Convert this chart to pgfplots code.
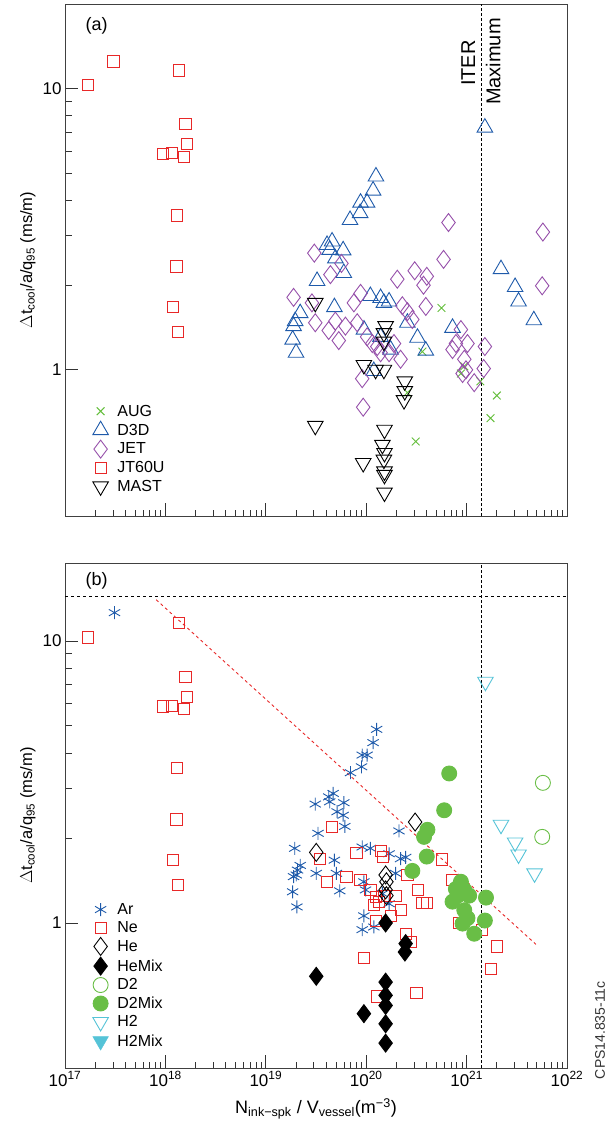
\documentclass[border=0pt]{standalone}
\usepackage{pgfplots}
\pgfplotsset{compat=1.18}
\usepackage{fontspec}
\setmainfont{Liberation Sans}
\definecolor{cred}{RGB}{232,40,40}
\definecolor{cblue}{RGB}{30,90,170}
\definecolor{cpurp}{RGB}{150,80,170}
\definecolor{cgreen}{RGB}{100,190,60}
\definecolor{cgreenf}{RGB}{105,190,70}
\definecolor{ccyan}{RGB}{85,195,215}
\begin{document}
\begin{tikzpicture}
\begin{axis}[xmode=log, ymode=log, scale only axis, width=502pt,
  xmin=1e17, xmax=1e22,
  xtick={1e17,1e18,1e19,1e20,1e21,1e22},
  ytick={1,10}, yticklabels={1,10},
  tick align=inside, xtick pos=bottom, ytick pos=left,
  major tick length=13pt, minor tick length=6.5pt,
  tick style={black!80, line width=0.8pt},
  axis line style={black!75, line width=0.9pt},
  ticklabel style={font=\fontsize{17}{19}\selectfont},
  ylabel={$\Delta$t\textsubscript{cool}/a/q\textsubscript{95} (ms/m)},
  ylabel style={font=\fontsize{16.5}{18}\selectfont, at={(-26pt,0.5)}, anchor=south},
  legend cell align=left,
  legend style={draw=none, fill=none, font=\fontsize{16}{18}\selectfont, anchor=south west, row sep=1.6pt, inner sep=0pt, nodes={inner xsep=9pt, inner ysep=2pt}, at={(0.055,0.04)}},
  name=A, at={(0,0)}, anchor=north west, height=512pt,
  ymin=0.302, ymax=20, xticklabels={}]
\addplot[only marks, line width=0.9pt, mark=x, mark size=5.5pt, color=cgreen, mark options={draw=cgreen}] coordinates {
(5.62e20,1.66)(3.63e20,1.16)(8.77e20,0.97)(9.48e20,1.03)(1.37e21,0.91)(2.0e21,0.81)(1.73e21,0.673)(3.11e20,0.556)(2.57e20,0.83)};
\addlegendentry{AUG}
\addplot[only marks, line width=0.9pt, mark=triangle, mark size=9pt, color=cblue, mark options={draw=cblue}] coordinates {
(1.52e21,7.27)(1.25e20,4.87)(1.17e20,4.34)(8.78e19,3.93)(1.02e20,3.93)(8.7e19,3.61)(6.9e19,3.41)(4.07e19,2.78)(4.57e19,2.86)(4.33e19,2.67)(5.89e19,2.66)(4.93e19,2.49)(5.98e19,2.21)(3.24e19,2.07)(2.2e21,2.28)(3.04e21,1.97)(3.29e21,1.75)(4.67e21,1.5)(2.2e19,1.59)(1.96e19,1.49)(1.89e19,1.43)(1.85e19,1.28)(2.0e19,1.15)(4.82e19,1.67)(1.1e20,1.83)(1.39e20,1.80)(1.69e20,1.75)(1.5e20,1.73)(9.5e19,1.39)(2.57e20,1.47)(3.24e20,1.30)(3.92e20,1.17)(7.24e20,1.41)(1.19e20,0.99)(1.75e20,1.18)(1.39e20,1.31)};
\addlegendentry{D3D}
\addplot[only marks, line width=0.9pt, mark=diamond, mark size=9pt, color=cpurp, mark options={draw=cpurp}] coordinates {
(6.6e20,3.34)(5.75e21,3.09)(5.89e20,2.47)(3.04e19,2.6)(5.67e19,2.39)(4.4e19,2.18)(3.04e20,2.25)(4.01e20,2.15)(2.04e20,2.1)(3.72e20,2.0)(5.66e21,1.99)(1.89e19,1.81)(2.88e19,1.73)(8.78e19,1.87)(7.53e19,1.73)(3.92e20,1.68)(2.29e20,1.69)(2.57e20,1.61)(2.88e20,1.51)(3.11e19,1.47)(4.23e19,1.38)(5.33e19,1.27)(4.93e19,1.49)(6.21e19,1.43)(8.13e19,1.47)(1.02e20,1.31)(1.15e20,1.24)(1.29e20,1.21)(1.89e20,1.24)(2.2e20,1.09)(9.12e19,0.93)(9.33e19,0.736)(8.77e20,1.39)(7.24e20,1.18)(7.82e20,1.24)(1.02e21,1.24)(9.48e20,1.09)(9.85e20,1.0)(1.19e21,0.90)(1.52e21,1.21)(1.48e21,1.01)(9.12e20,0.97)(1.69e20,1.15)(1.39e20,1.15)};
\addlegendentry{JET}
\addplot[only marks, line width=0.9pt, mark=square, mark size=5.6pt, draw=cred, mark options={draw=cred}] coordinates {
(1.69e17,10.3)(3.04e17,12.5)(1.36e18,11.6)(1.58e18,7.47)(1.65e18,6.34)(9.5e17,5.86)(1.17e18,5.89)(1.52e18,5.73)(1.31e18,3.54)(1.29e18,2.33)(1.19e18,1.67)(1.34e18,1.36)};
\addlegendentry{JT60U}
\addplot[only marks, line width=0.9pt, mark=triangle, mark options={rotate=180, draw=black}, mark size=9pt, color=black] coordinates {
(3.11e19,1.73)(9.48e19,1.04)(1.24e20,1.0)(1.5e20,1.0)(1.56e20,1.43)(1.5e20,1.35)(1.5e20,1.26)(2.42e20,0.91)(2.42e20,0.84)(2.38e20,0.78)(3.11e19,0.632)(9.33e19,0.466)(1.52e20,0.612)(1.45e20,0.541)(1.52e20,0.506)(1.5e20,0.479)(1.52e20,0.435)(1.52e20,0.423)(1.52e20,0.366)};
\addlegendentry{MAST}
\draw[densely dashed, black, line width=1pt] (axis cs:1.41e21,0.302) -- (axis cs:1.41e21,20);
\node[rotate=90, anchor=east, font=\fontsize{20}{22}\selectfont] at (rel axis cs:0.803,0.936) {ITER};
\node[rotate=90, anchor=east, font=\fontsize{20}{22}\selectfont] at (rel axis cs:0.853,0.979) {Maximum};
\node[font=\fontsize{18}{20}\selectfont] at (rel axis cs:0.063,0.958) {(a)};
\end{axis}

\begin{axis}[xmode=log, ymode=log, scale only axis, width=502pt,
  xmin=1e17, xmax=1e22, clip=false,
  xtick={1e17,1e18,1e19,1e20,1e21,1e22},
  ytick={1,10}, yticklabels={1,10},
  tick align=inside, xtick pos=bottom, ytick pos=left,
  major tick length=13pt, minor tick length=6.5pt,
  tick style={black!80, line width=0.8pt},
  axis line style={black!75, line width=0.9pt},
  ticklabel style={font=\fontsize{17}{19}\selectfont},
  ylabel={$\Delta$t\textsubscript{cool}/a/q\textsubscript{95} (ms/m)},
  ylabel style={font=\fontsize{16.5}{18}\selectfont, at={(-26pt,0.5)}, anchor=south},
  legend cell align=left,
  legend style={draw=none, fill=none, font=\fontsize{16}{18}\selectfont, anchor=south west, row sep=1.6pt, inner sep=0pt, nodes={inner xsep=9pt, inner ysep=2pt}, at={(0.055,0.035)}},
  name=B, at={(0,-559pt)}, anchor=north west, height=505pt,
  ymin=0.306, ymax=18.9,
  xticklabels={10\textsuperscript{17},10\textsuperscript{18},10\textsuperscript{19},10\textsuperscript{20},10\textsuperscript{21},10\textsuperscript{22}},
  xlabel={N\textsubscript{ink−spk} / V\textsubscript{vessel}(m\textsuperscript{−3})},
  xlabel style={font=\fontsize{18}{20}\selectfont, at={(0.5,-27pt)}, anchor=north}]
\addplot[only marks, line width=0.9pt, mark=asterisk, mark size=6.5pt, color=cblue, mark options={draw=cblue}] coordinates {
(3.11e17,12.6)(1.27e20,4.86)(1.17e20,4.36)(9.12e19,3.94)(1.02e20,3.94)(8.98e19,3.58)(6.97e19,3.41)(3.11e19,2.64)(4.23e19,2.8)(4.68e19,2.88)(4.33e19,2.69)(5.98e19,2.67)(5.13e19,2.48)(5.89e19,2.41)(6.12e19,2.2)(3.31e19,2.08)(1.94e19,1.84)(2.2e19,1.6)(2.07e19,1.54)(1.89e19,1.46)(2.01e19,1.48)(1.85e19,1.29)(2.04e19,1.14)(3.18e19,1.5)(4.82e19,1.67)(5.05e19,1.5)(5.45e19,1.3)(9.12e19,1.86)(1.1e20,1.84)(1.69e20,1.76)(2.12e20,2.12)(2.47e20,1.71)(2.2e20,1.69)(1.96e20,1.5)(9.48e19,1.4)(9.85e19,1.31)(9.48e19,1.06)(9.12e19,0.947)(1.19e20,0.968)(1.69e20,1.17)(1.45e20,1.27)};
\addlegendentry{Ar}
\addplot[only marks, line width=0.9pt, mark=square, mark size=5.6pt, draw=cred, mark options={draw=cred}] coordinates {
(1.69e17,10.3)(1.36e18,11.6)(1.58e18,7.47)(1.65e18,6.34)(9.5e17,5.86)(1.17e18,5.89)(1.52e18,5.73)(1.31e18,3.54)(1.29e18,2.33)(1.19e18,1.67)(1.34e18,1.36)
(4.57e19,2.19)(3.49e19,1.69)(8.0e19,1.77)(1.41e20,1.8)(1.48e20,1.72)(4.07e19,1.4)(6.35e19,1.46)(8.78e19,1.42)(1.1e20,1.31)(1.24e20,1.24)(1.19e20,1.16)(1.34e20,1.19)(1.75e20,1.06)(1.96e20,1.25)(2.2e20,1.11)(2.57e20,1.48)(3.29e20,1.31)(3.63e20,1.18)(4.01e20,1.18)(5.66e20,1.68)(7.24e20,1.42)(2.47e20,0.916)(2.77e20,0.857)(1.27e20,0.549)(9.48e19,0.751)(3.16e20,0.566)(1.41e21,0.942)(2.01e21,0.826)(1.75e21,0.689)(1.24e20,1.02)(8.45e20,1.0)(1.5e20,1.25)};
\addlegendentry{Ne}
\addplot[only marks, line width=0.9pt, mark=diamond, mark size=9pt, color=black, mark options={draw=black}] coordinates {
(3.18e19,1.78)(3.07e20,2.28)(1.56e20,1.48)(1.59e20,1.4)(1.56e20,1.31)(1.59e20,1.25)};
\addlegendentry{He}
\addplot[only marks, line width=0.9pt, mark=diamond*, mark size=9pt, color=black] coordinates {
(1.56e20,1.0)(2.47e20,0.845)(2.43e20,0.789)(3.18e19,0.647)(9.48e19,0.477)(1.56e20,0.617)(1.56e20,0.554)(1.56e20,0.51)(1.56e20,0.439)(1.56e20,0.375)};
\addlegendentry{HeMix}
\addplot[only marks, line width=0.9pt, mark=o, mark size=7.5pt, color=cgreenf, mark options={draw=cgreenf}] coordinates {
(5.75e21,3.14)(5.66e21,2.02)};
\addlegendentry{D2}
\addplot[only marks, line width=0.9pt, mark=*, mark size=7.5pt, color=cgreenf, mark options={fill=cgreenf, draw=cgreenf}] coordinates {
(6.71e20,3.39)(5.98e20,2.51)(4.07e20,2.14)(3.77e20,2.02)(4.01e20,1.72)(2.88e20,1.53)(8.77e20,1.4)(9.48e20,1.31)(7.82e20,1.32)(1.06e21,1.25)(7.24e20,1.19)(9.48e20,1.11)(1.02e21,1.04)(9.12e20,0.995)(1.19e21,0.916)(1.56e21,1.23)(1.52e21,1.02)(8.13e20,1.25)};
\addlegendentry{D2Mix}
\addplot[only marks, line width=0.9pt, mark=triangle, mark options={rotate=180, draw=ccyan}, mark size=9pt, color=ccyan] coordinates {
(1.54e21,7.17)(2.2e21,2.23)(3.04e21,1.93)(3.29e21,1.75)(4.75e21,1.5)};
\addlegendentry{H2}
\addlegendimage{only marks, mark=triangle*, mark options={rotate=180, fill=ccyan, draw=ccyan}, mark size=9pt}
\addlegendentry{H2Mix}
\draw[densely dashed, black, line width=1pt] (axis cs:1.41e21,0.306) -- (axis cs:1.41e21,18.9);
\draw[dashed, black, line width=0.8pt] (axis cs:1e17,14.4) -- (axis cs:1e22,14.4);
\draw[dashed, cred, line width=0.9pt] (axis cs:8.1e17,14) -- (axis cs:4.9e21,0.84);
\node[font=\fontsize{18}{20}\selectfont] at (rel axis cs:0.063,0.965) {(b)};
\node[rotate=90, anchor=center, font=\fontsize{14}{15}\selectfont, black!80] at (rel axis cs:1.066,0.075) {CPS14.835-11c};
\end{axis}
\pgfresetboundingbox
\path[use as bounding box] (-65pt,4pt) rectangle (546pt,-1140pt);
\end{tikzpicture}
\end{document}
